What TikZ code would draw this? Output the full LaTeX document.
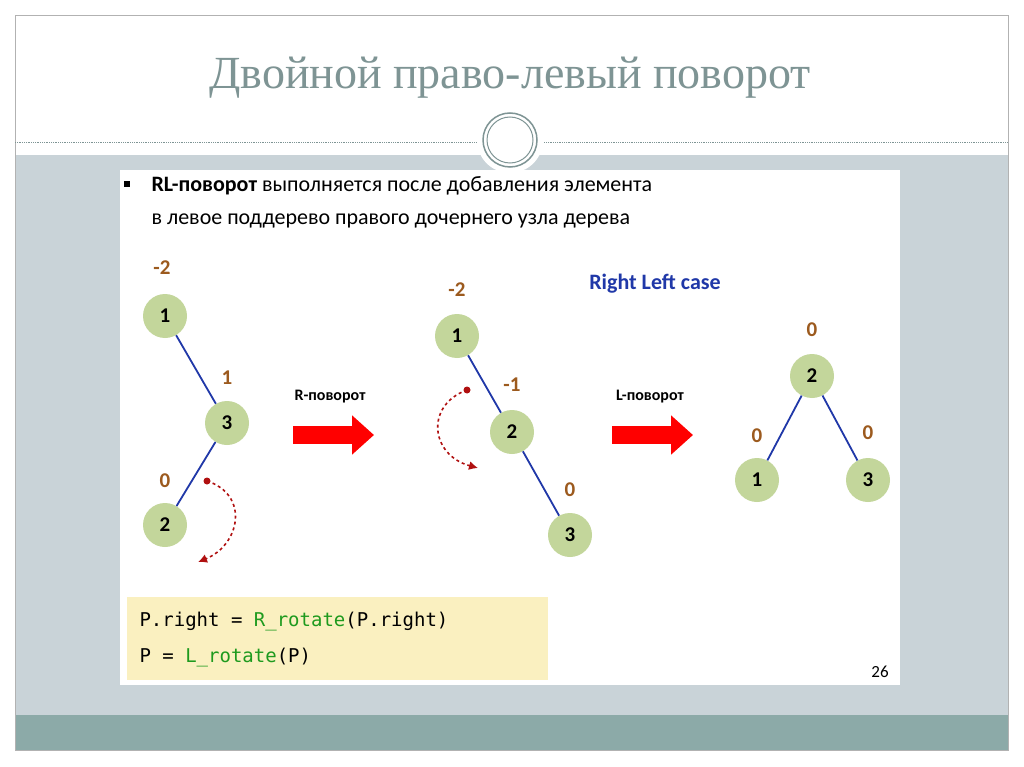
\documentclass[tikz,border=0pt]{standalone}
\usepackage{fontspec}
\setmainfont{Carlito}
\newfontfamily\titlefont{Liberation Serif}
\newfontfamily\codefont{DejaVu Sans Mono}
\usetikzlibrary{arrows.meta}
\definecolor{ttl}{HTML}{7E9494}
\definecolor{band}{HTML}{C9D3D8}
\definecolor{foot}{HTML}{8CAAA8}
\definecolor{nodeg}{HTML}{C3D69B}
\definecolor{brn}{HTML}{9C5A1E}
\definecolor{blu}{HTML}{2038A8}
\definecolor{codebg}{HTML}{FAF0C0}
\definecolor{grn}{HTML}{1E9A1E}
\definecolor{dred}{HTML}{B01010}
\tikzset{
  tnode/.style={circle,fill=nodeg,minimum size=44pt,inner sep=0,font=\bfseries\fontsize{21}{21}\selectfont},
  bal/.style={text=brn,font=\bfseries\fontsize{21}{21}\selectfont},
  edge/.style={blu,line width=1.8pt},
  rot/.style={dred,dashed,line width=1.6pt,-{Latex[length=9pt,width=9pt]}},
  bigarrow/.style={red,line width=18pt,-{Triangle[length=22pt,width=38pt]}},
  rotlabel/.style={font=\bfseries\fontsize{16}{16}\selectfont}
}
\begin{document}
\begin{tikzpicture}[x=1pt,y=-1pt]
\useasboundingbox (0,0) rectangle (1024,767);
\fill[white] (0,0) rectangle (1024,767);
\fill[band] (15,155) rectangle (1008,750);
\fill[foot] (15,715) rectangle (1008,750);
\draw[gray!60,line width=0.8pt] (15,15) rectangle (1008,750);
\draw[ttl,densely dotted,line width=0.8pt] (15,142) -- (1008,142);
\node[text=ttl,font=\titlefont\fontsize{46}{46}\selectfont] (title) at (510,78) {Двойной право-левый поворот};
\fill[white] (510,140) circle (33);
\draw[ttl,line width=1.5pt] (510,140) circle (27);
\draw[ttl,line width=1pt] (510,140) circle (23);
\fill[white] (120,170) rectangle (900,685);
\fill[black] (124,181) rectangle (130,187);
\node[anchor=west,font=\fontsize{22}{22}\selectfont] (b1) at (148,186) {\textbf{RL-поворот} выполняется после добавления элемента};
\node[anchor=west,font=\fontsize{22}{22}\selectfont] (b2) at (148,221) {в левое поддерево правого дочернего узла дерева};
% tree 1
\node[tnode] (a1) at (165,316) {1};
\node[tnode] (a3) at (227,423) {3};
\node[tnode] (a2) at (165,525) {2};
\draw[edge] (a1) -- (a3); \draw[edge] (a3) -- (a2);
\node[bal] (la1) at (162,268) {-2};
\node[bal] (la3) at (227,378) {1};
\node[bal] (la2) at (165,481) {0};
\fill[dred] (207,481) circle (3.5);
\coordinate (r1s) at (207,481); \coordinate (r1e) at (198,562);
\draw[rot] (r1s) .. controls (250,495) and (240,545) .. (r1e);
% arrows
\node[rotlabel] (rc) at (330,397) {R-поворот};
\coordinate (ra1) at (293,435); \coordinate (ra2) at (374,435);
\draw[bigarrow] (ra1) -- (ra2);
\node[rotlabel] (lc) at (650,397) {L-поворот};
\coordinate (la1s) at (612,435); \coordinate (la2s) at (693,435);
\draw[bigarrow] (la1s) -- (la2s);
% tree 2
\node[tnode] (b1n) at (457,336) {1};
\node[tnode] (b2n) at (512,432) {2};
\node[tnode] (b3n) at (570,535) {3};
\draw[edge] (b1n) -- (b2n); \draw[edge] (b2n) -- (b3n);
\node[bal] (lb1) at (457,290) {-2};
\node[bal] (lb2) at (512,385) {-1};
\node[bal] (lb3) at (570,490) {0};
\fill[dred] (467,390) circle (3.5);
\coordinate (r2s) at (467,390); \coordinate (r2e) at (478,468);
\draw[rot] (r2s) .. controls (425,405) and (430,455) .. (r2e);
\node[text=blu,font=\bfseries\fontsize{22}{22}\selectfont] (rlc) at (655,284) {Right Left case};
% tree 3
\node[tnode] (c2) at (812,376) {2};
\node[tnode] (c1) at (757,480) {1};
\node[tnode] (c3) at (868,480) {3};
\draw[edge] (c2) -- (c1); \draw[edge] (c2) -- (c3);
\node[bal] (lc2) at (812,330) {0};
\node[bal] (lc1) at (757,436) {0};
\node[bal] (lc3) at (868,433) {0};
% code
\fill[codebg] (127,597) rectangle (548,680);
\node[anchor=west,font=\codefont\fontsize{19}{19}\selectfont] (code1) at (136,622) {P.right = \textcolor{grn}{R\_rotate}(P.right)};
\node[anchor=west,font=\codefont\fontsize{19}{19}\selectfont] (code2) at (136,658) {P = \textcolor{grn}{L\_rotate}(P)};
\node[font=\fontsize{17}{17}\selectfont] (pg) at (880,672) {26};
\end{tikzpicture}
\end{document}
